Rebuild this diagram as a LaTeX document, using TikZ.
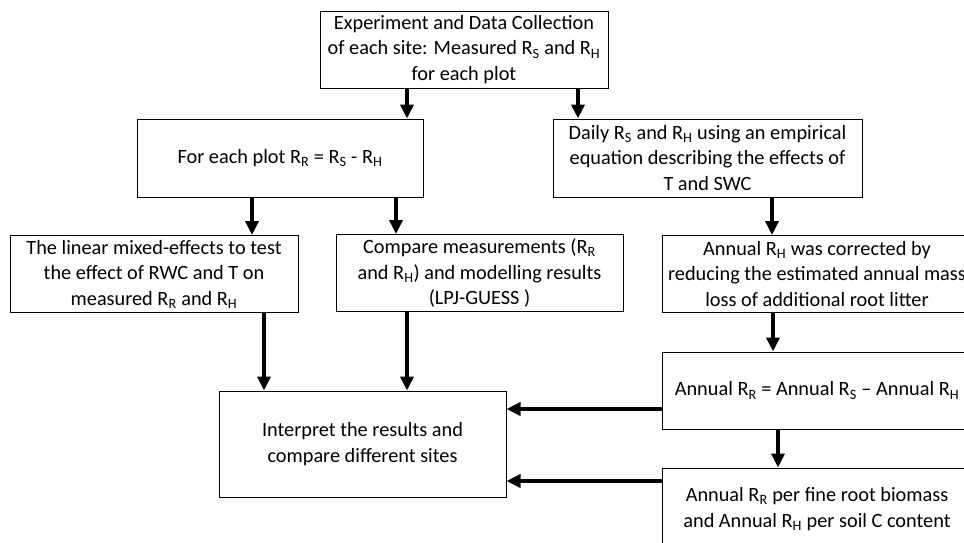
\documentclass[tikz,border=0pt]{standalone}
\usepackage{fontspec}
\setmainfont{Carlito}
\usetikzlibrary{arrows.meta}
\newcommand{\rsub}[1]{R\textsubscript{#1}}

\begin{document}
\begin{tikzpicture}[x=1pt, y=-1pt,
        box/.style={draw, line width=1pt, align=center, inner sep=0pt,
            font=\fontsize{20.3}{25.5}\selectfont},
        flow/.style={line width=4pt, -{Triangle[length=14pt,width=13pt]}}]

        % Page frame
        \useasboundingbox (0,0) rectangle (964,542);
        \clip (0,0) rectangle (964,542);

        % First row
        \node[box, minimum width=288pt, minimum height=77pt] (exp) at (464,49.5)
            {Experiment and Data Collection\\of each site: Measured \rsub{S} and \rsub{H}\\for each plot};

        % Second row
        \node[box, minimum width=286pt, minimum height=78pt] (plot) at (280,158)
            {For each plot \rsub{R} = \rsub{S} - \rsub{H}};
        \node[box, minimum width=309pt, minimum height=78pt] (daily) at (707.5,158)
            {Daily \rsub{S} and \rsub{H} using an empirical\\equation describing the effects of\\T and SWC};

        % Third row
        \node[box, minimum width=288pt, minimum height=77pt] (lmm) at (154,274)
            {The linear mixed-effects to test\\the effect of RWC and T on\\measured \rsub{R} and \rsub{H}};
        \node[box, minimum width=287pt, minimum height=77pt] (comp) at (479.5,273)
            {Compare measurements (\rsub{R}\\and \rsub{H}) and modelling results\\(LPJ-GUESS )};
        \node[box, minimum width=310pt, minimum height=77pt] (corr) at (817,274)
            {Annual \rsub{H} was corrected by\\reducing the estimated annual mass\\loss of additional root litter};

        % Lower part
        \node[box, minimum width=287pt, minimum height=106pt] (interp) at (362.5,444)
            {Interpret the results and\\compare different sites};
        \node[box, minimum width=310pt, minimum height=77pt] (annrr) at (817,390.5)
            {Annual \rsub{R} = Annual \rsub{S} -- Annual \rsub{H}};
        \node[box, minimum width=310pt, minimum height=82pt] (norm) at (817,509)
            {Annual \rsub{R} per fine root biomass\\and Annual \rsub{H} per soil C content};

        % Arrows down
        \draw[flow] ([xshift=-57pt]exp.south) -- ([xshift=-57pt]exp.south |- plot.north);
        \draw[flow] ([xshift=114pt]exp.south) -- ([xshift=114pt]exp.south |- daily.north);
        \draw[flow] ([xshift=-28pt]plot.south) -- ([xshift=-28pt]plot.south |- lmm.north);
        \draw[flow] ([xshift=116pt]plot.south) -- ([xshift=116pt]plot.south |- comp.north);
        \draw[flow] ([xshift=64.5pt]daily.south) -- ([xshift=64.5pt]daily.south |- corr.north);
        \draw[flow] ([xshift=110pt]lmm.south) -- ([xshift=110pt]lmm.south |- interp.north);
        \draw[flow] ([xshift=-72.5pt]comp.south) -- ([xshift=-72.5pt]comp.south |- interp.north);
        \draw[flow] ([xshift=-44pt]corr.south) -- ([xshift=-44pt]corr.south |- annrr.north);
        \draw[flow] ([xshift=-39pt]annrr.south) -- ([xshift=-39pt]annrr.south |- norm.north);

        % Arrows to the left
        \draw[flow] ([yshift=-18.5pt]annrr.west) -- ([yshift=-18.5pt]annrr.west -| interp.east);
        \draw[flow] ([yshift=28pt]norm.west) -- ([yshift=28pt]norm.west -| interp.east);

    \end{tikzpicture}
\end{document}
